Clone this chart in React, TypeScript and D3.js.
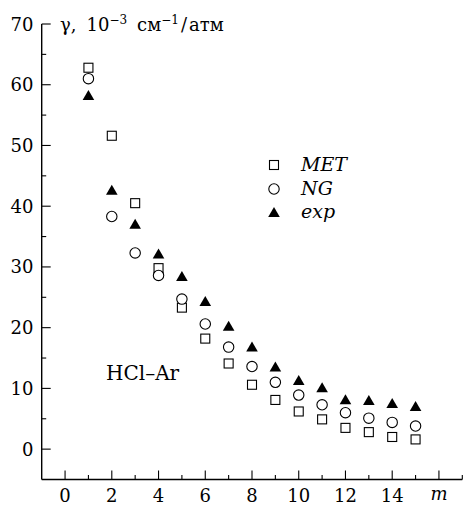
import React from "react";
import * as d3 from "d3";

const mValues = [1, 2, 3, 4, 5, 6, 7, 8, 9, 10, 11, 12, 13, 14, 15];
const metValues = [62.8, 51.6, 40.5, 29.8, 23.3, 18.2, 14.1, 10.6, 8.1, 6.2, 4.9, 3.5, 2.8, 2.0, 1.6];
const ngValues = [61.0, 38.3, 32.3, 28.6, 24.7, 20.6, 16.8, 13.6, 11.0, 8.9, 7.3, 6.0, 5.1, 4.4, 3.8];
const expValues = [58.3, 42.7, 37.1, 32.2, 28.5, 24.4, 20.3, 16.9, 13.6, 11.4, 10.2, 8.2, 8.1, 7.6, 7.1];
const xTickLabels = [0, 2, 4, 6, 8, 10, 12, 14];
const yTickLabels = [0, 10, 20, 30, 40, 50, 60, 70];
const legendLabels = ["MET", "NG", "exp"];

const W = 463;
const H = 506;
const FONT = "'DejaVu Serif', serif";

export default function App() {
  const x = d3.scaleLinear().domain([-1, 17]).range([41.7, 462.3]);
  const y = d3.scaleLinear().domain([-5, 70]).range([479.5, 24]);
  const x0 = x(-1);
  const yBase = y(-5);

  const xMinor = d3.range(-1, 18, 1).filter((v) => !xTickLabels.includes(v) && v !== 16 && v !== -1);
  const xMajor = [...xTickLabels, 16];
  const yMinor = d3.range(-5, 70, 5).filter((v) => v % 10 !== 0 && v !== -5);

  const sq = (cx: number, cy: number, k: string) => (
    <rect key={k} x={cx - 4.5} y={cy - 4.5} width={9} height={9} fill="white" stroke="black" strokeWidth={1.1} />
  );
  const ci = (cx: number, cy: number, k: string) => (
    <circle key={k} cx={cx} cy={cy} r={5.2} fill="white" stroke="black" strokeWidth={1.1} />
  );
  const tri = (cx: number, cy: number, k: string) => (
    <path key={k} d={`M${cx},${cy - 5} L${cx + 5.8},${cy + 5} L${cx - 5.8},${cy + 5} Z`} fill="black" />
  );

  const legendX = 274;
  const legendY = [165, 189, 212];
  const markers = [sq, ci, tri];

  return (
    <svg width={W} height={H} style={{ position: "absolute", left: 0, top: 0, background: "white" }} fontFamily={FONT}>
      <rect x={0} y={0} width={W} height={H} fill="white" />
      {/* axes */}
      <line x1={x0} x2={x0} y1={y(70)} y2={yBase} stroke="black" strokeWidth={1.4} />
      <line x1={x0} x2={x(17)} y1={yBase} y2={yBase} stroke="black" strokeWidth={1.4} />
      {yTickLabels.map((v) => (
        <g key={"yt" + v}>
          <line x1={x0} x2={x0 + 9} y1={y(v)} y2={y(v)} stroke="black" strokeWidth={1.1} />
          <text x={33.5} y={y(v) + 6.5} fontSize={18} textAnchor="end">{v}</text>
        </g>
      ))}
      {yMinor.map((v) => (
        <line key={"ym" + v} x1={x0} x2={x0 + 4.5} y1={y(v)} y2={y(v)} stroke="black" strokeWidth={1.1} />
      ))}
      {xMajor.map((v) => (
        <line key={"xt" + v} x1={x(v)} x2={x(v)} y1={yBase} y2={yBase - 9} stroke="black" strokeWidth={1.1} />
      ))}
      {xMinor.map((v) => (
        <line key={"xm" + v} x1={x(v)} x2={x(v)} y1={yBase} y2={yBase - 4.5} stroke="black" strokeWidth={1.1} />
      ))}
      {xTickLabels.map((v) => (
        <text key={"xl" + v} x={x(v)} y={502} fontSize={18} textAnchor="middle">{v}</text>
      ))}
      <text x={x(16)} y={500} fontSize={18} fontStyle="italic" textAnchor="middle">m</text>
      {/* title */}
      <text x={60} y={30.5} fontSize={18}>
        <tspan>γ,</tspan>
        <tspan dx={10}>10</tspan>
        <tspan fontSize={12} dy={-7}>−3</tspan>
        <tspan dx={10} dy={7}>см</tspan>
        <tspan fontSize={12} dy={-7}>−1</tspan>
        <tspan dx={2} dy={7}>/</tspan>
        <tspan dx={2}>атм</tspan>
      </text>
      <text x={106} y={380} fontSize={20}>HCl–Ar</text>
      {/* data */}
      {mValues.map((m, i) => sq(x(m), y(metValues[i]), "s" + i))}
      {mValues.map((m, i) => ci(x(m), y(ngValues[i]), "c" + i))}
      {mValues.map((m, i) => tri(x(m), y(expValues[i]), "t" + i))}
      {/* legend */}
      {legendLabels.map((l, i) => (
        <g key={"lg" + i}>
          {markers[i](legendX, legendY[i], "lm" + i)}
          <text x={301} y={legendY[i] + 6} fontSize={19} fontStyle="italic">{l}</text>
        </g>
      ))}
    </svg>
  );
}
